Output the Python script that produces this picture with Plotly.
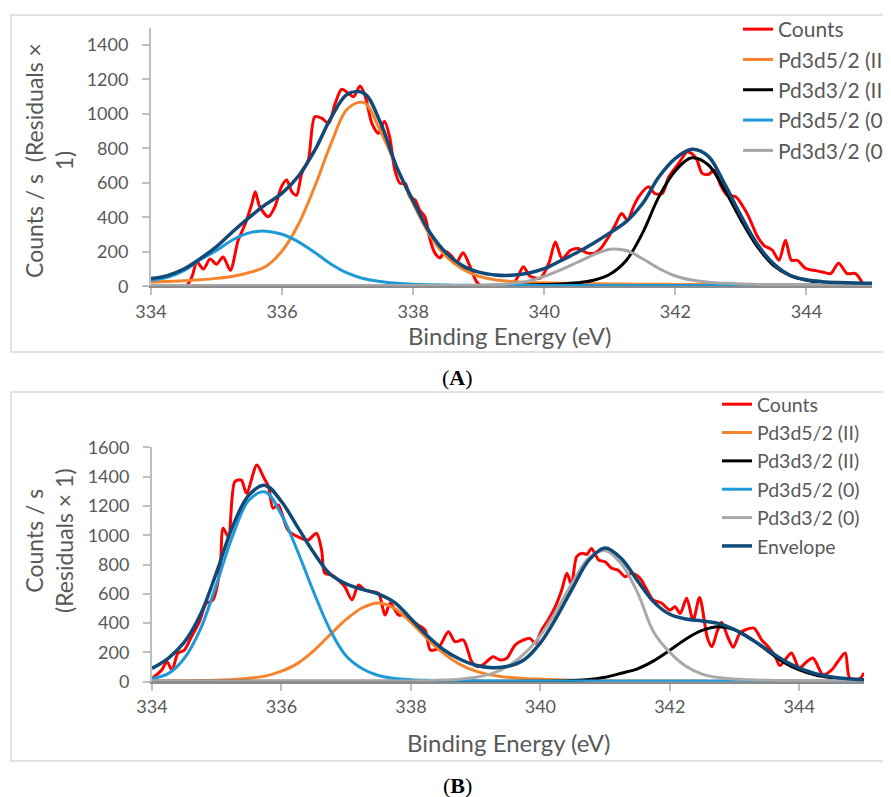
import plotly.graph_objects as go

# ---------------- data ----------------
energy_grid = [334.00, 334.25, 334.50, 334.75, 335.00, 335.25, 335.50, 335.75,
               336.00, 336.25, 336.50, 336.75, 337.00, 337.25, 337.50, 337.75,
               338.00, 338.25, 338.50, 338.75, 339.00, 339.25, 339.50, 339.75,
               340.00, 340.25, 340.50, 340.75, 341.00, 341.25, 341.50, 341.75,
               342.00, 342.25, 342.50, 342.75, 343.00, 343.25, 343.50, 343.75,
               344.00, 344.25, 344.50, 344.75, 345.00]

# ---- Panel A ----
counts_A_energy = [334.00, 334.15, 334.30, 334.45, 334.55, 334.63, 334.70, 334.80, 334.90, 335.00,
                   335.10, 335.21, 335.33, 335.44, 335.54, 335.59, 335.66, 335.79, 335.89, 335.99,
                   336.07, 336.15, 336.22, 336.30, 336.40, 336.50, 336.61, 336.71, 336.81, 336.91,
                   337.01, 337.09, 337.19, 337.27, 337.37, 337.47, 337.56, 337.64, 337.72, 337.80,
                   337.88, 337.95, 338.03, 338.10, 338.18, 338.26, 338.33, 338.41, 338.48, 338.59,
                   338.66, 338.76, 338.86, 338.97, 339.10, 339.30, 339.50, 339.60, 339.68, 339.78,
                   339.94, 340.07, 340.17, 340.27, 340.40, 340.52, 340.65, 340.78, 340.88, 340.98,
                   341.08, 341.18, 341.27, 341.36, 341.44, 341.59, 341.69, 341.80, 341.90, 342.05,
                   342.18, 342.25, 342.33, 342.41, 342.51, 342.59, 342.69, 342.79, 342.92, 343.02,
                   343.12, 343.25, 343.35, 343.48, 343.58, 343.68, 343.77, 343.86, 343.99, 344.11,
                   344.24, 344.37, 344.49, 344.62, 344.75, 344.83, 344.88]
counts_A = [-8, -12, -5, -12, 5, 60, 141, 100, 159, 128,
            170, 93, 267, 364, 480, 548, 461, 403, 461, 577,
            616, 548, 528, 655, 732, 984, 974, 945, 1061, 1143,
            1120, 1100, 1162, 1100, 945, 887, 958, 868, 674, 597,
            597, 519, 500, 441, 403, 267, 194, 165, 203, 174,
            138, 194, 122, 25, -13, -7, 0, 58, 114, 60,
            48, 134, 257, 161, 209, 219, 194, 194, 228, 286,
            354, 422, 383, 461, 519, 577, 538, 538, 635, 713,
            780, 770, 732, 655, 650, 674, 587, 528, 519, 470,
            403, 290, 238, 209, 151, 267, 151, 151, 103, 93,
            83, 74, 134, 74, 74, 35, -12]

pd52_II_A = [25, 28, 32, 38, 46, 58, 80, 115, 205, 360, 580, 830, 1030, 1065, 900, 690,
             480, 300, 175, 100, 58, 38, 28, 23, 20, 18, 16, 15, 14, 13, 12, 12,
             11, 11, 10, 10, 10, 9, 9, 9, 8, 8, 8, 8, 8]
pd32_II_A = [5, 5, 5, 5, 5, 5, 5, 5, 5, 5, 5, 5, 5, 5, 5, 5,
             5, 5, 5, 5, 5, 5, 5, 8, 10, 13, 20, 35, 70, 150, 310, 520,
             670, 745, 705, 560, 385, 230, 120, 62, 35, 22, 16, 13, 12]
pd52_0_A = [35, 52, 90, 155, 208, 270, 310, 320, 302, 258, 196, 128, 76, 44, 28, 18,
            12, 9, 7, 6, 5, 5, 5, 4, 4, 4, 4, 4, 4, 4, 4, 4,
            4, 4, 4, 4, 4, 4, 4, 4, 4, 4, 4, 4, 4]
pd32_0_A = [5, 5, 5, 5, 5, 5, 5, 5, 5, 5, 5, 5, 5, 5, 5, 5,
            5, 5, 5, 5, 7, 10, 16, 30, 58, 95, 138, 182, 215, 208, 160, 103,
            60, 36, 24, 17, 13, 11, 10, 10, 10, 10, 10, 10, 10]
envelope_A = [45, 62, 100, 160, 230, 318, 400, 475, 540, 640, 790, 980, 1115, 1120, 950, 690,
              495, 315, 195, 120, 82, 66, 64, 76, 102, 148, 196, 250, 310, 375, 480, 635,
              742, 795, 755, 595, 410, 245, 130, 64, 38, 27, 22, 19, 18]

# ---- Panel B ----
counts_B_energy = [334.00, 334.15, 334.23, 334.31, 334.40, 334.50, 334.61, 334.73, 334.84, 334.94,
                   335.05, 335.10, 335.18, 335.28, 335.38, 335.46, 335.62, 335.72, 335.80, 335.87,
                   335.95, 336.10, 336.25, 336.41, 336.54, 336.62, 336.67, 336.78, 336.88, 336.98,
                   337.09, 337.19, 337.29, 337.40, 337.50, 337.60, 337.68, 337.81, 337.91, 338.01,
                   338.11, 338.22, 338.30, 338.42, 338.58, 338.68, 338.81, 338.94, 339.04, 339.14,
                   339.27, 339.38, 339.48, 339.61, 339.74, 339.84, 339.92, 340.02, 340.12, 340.23,
                   340.33, 340.41, 340.48, 340.56, 340.64, 340.72, 340.79, 340.90, 341.00, 341.10,
                   341.20, 341.31, 341.41, 341.54, 341.62, 341.74, 341.87, 342.00, 342.08, 342.16,
                   342.26, 342.36, 342.46, 342.58, 342.65, 342.73, 342.80, 342.90, 342.98, 343.08,
                   343.16, 343.30, 343.42, 343.52, 343.63, 343.70, 343.80, 343.88, 344.00, 344.10,
                   344.21, 344.37, 344.50, 344.60, 344.71, 344.78, 344.93, 345.00]
counts_B = [23, 80, 137, 80, 194, 216, 307, 407, 535, 557,
            762, 1047, 990, 1365, 1376, 1286, 1479, 1399, 1331, 1184,
            1206, 1035, 990, 967, 1013, 899, 740, 728, 694, 648,
            558, 660, 626, 614, 603, 455, 535, 455, 460, 421,
            387, 353, 216, 228, 341, 273, 285, 137, 102, 125,
            171, 148, 160, 250, 285, 296, 262, 353, 421, 512,
            626, 740, 665, 853, 877, 870, 910, 831, 819, 774,
            762, 717, 740, 706, 648, 558, 537, 489, 512, 466,
            570, 420, 575, 300, 239, 341, 405, 300, 235, 330,
            353, 366, 285, 239, 171, 110, 160, 196, 93, 130,
            162, 46, 80, 140, 196, 25, 20, 60]

pd52_II_B = [3, 4, 5, 7, 10, 15, 24, 38, 72, 125, 212, 320, 425, 505, 538, 500,
             405, 295, 195, 120, 72, 45, 30, 22, 17, 13, 10, 8, 6, 5, 5, 4,
             4, 4, 4, 3, 3, 3, 3, 3, 3, 3, 3, 3, 3]
pd32_II_B = [3, 3, 3, 3, 3, 3, 3, 3, 3, 3, 3, 3, 3, 3, 3, 3,
             3, 3, 3, 3, 3, 3, 3, 3, 3, 5, 8, 15, 30, 58, 88, 142,
             215, 292, 350, 375, 355, 295, 215, 135, 80, 45, 27, 18, 14]
pd52_0_B = [22, 55, 160, 360, 670, 1000, 1240, 1295, 1140, 890, 610, 355, 175, 88, 42, 22,
            14, 10, 8, 7, 6, 5, 5, 5, 5, 5, 5, 5, 5, 5, 5, 5,
            5, 5, 5, 5, 5, 5, 5, 5, 5, 5, 5, 5, 5]
pd32_0_B = [5, 5, 5, 5, 5, 5, 5, 5, 5, 5, 5, 5, 5, 5, 5, 5,
            5, 7, 11, 17, 30, 55, 105, 190, 315, 485, 680, 845, 895, 805, 610, 340,
            200, 105, 52, 28, 18, 13, 10, 8, 7, 6, 6, 5, 5]
envelope_B = [91, 160, 270, 460, 750, 1065, 1275, 1340, 1230, 1055, 880, 735, 668, 630, 598, 540,
              430, 315, 220, 155, 112, 96, 105, 150, 265, 440, 640, 830, 912, 840, 690, 545,
              460, 428, 415, 398, 355, 292, 220, 148, 92, 55, 33, 20, 14]

x_ticks = [334, 336, 338, 340, 342, 344]
y_ticks_A = [0, 200, 400, 600, 800, 1000, 1200, 1400]
y_ticks_B = [0, 200, 400, 600, 800, 1000, 1200, 1400, 1600]

series_names = ["Pd3d5/2 (II)", "Pd3d3/2 (II)", "Pd3d5/2 (0)", "Pd3d3/2 (0)"]

# ---------------- styling ----------------
OFF = 8                 # page body margin of the html page
W, H = 891 - OFF, 797 - OFF
RED = "#FF0000"
ORANGE = "#F7832D"
BLACK = "#000000"
LBLUE = "#1F9AD9"
GREY = "#A6A6A6"
GREY_B = "#ABA9A7"
NAVY = "#104A78"
TXT = "#595959"
FONT = "Lato"

def px(sx):
    return (sx - OFF) / W

def py(sy):
    return 1 - (sy - OFF) / H

fig = go.Figure()

def add_panel(xa, ya, leg, ex, ey, comps, env, env_legend, grey):
    fig.add_trace(go.Scatter(x=ex, y=ey, mode="lines", name="Counts",
                             line=dict(color=RED, width=3, shape="spline", smoothing=0.8),
                             xaxis=xa, yaxis=ya, legend=leg))
    colors = [ORANGE, BLACK, LBLUE, grey]
    for nm, vals, c in zip(series_names, comps, colors):
        fig.add_trace(go.Scatter(x=energy_grid, y=vals, mode="lines", name=nm,
                                 line=dict(color=c, width=3, shape="spline"),
                                 xaxis=xa, yaxis=ya, legend=leg))
    fig.add_trace(go.Scatter(x=energy_grid, y=env, mode="lines", name="Envelope",
                             line=dict(color=NAVY, width=3.5, shape="spline"),
                             xaxis=xa, yaxis=ya, legend=leg, showlegend=env_legend))

add_panel("x", "y", "legend", counts_A_energy, counts_A,
          [pd52_II_A, pd32_II_A, pd52_0_A, pd32_0_A], envelope_A, False, GREY)
add_panel("x2", "y2", "legend2", counts_B_energy, counts_B,
          [pd52_II_B, pd32_II_B, pd52_0_B, pd32_0_B], envelope_B, True, GREY_B)

tickfont = dict(family=FONT, size=18, color=TXT)
xcommon = dict(range=[334, 345], tickvals=x_ticks, ticks="outside", ticklen=7,
               tickcolor="#BFBFBF", tickwidth=1.5, showline=True, linecolor="#8C8C8C",
               linewidth=2, showgrid=False, zeroline=False, tickfont=tickfont,
               ticklabelstandoff=1, automargin=False)
ycommon = dict(ticks="outside", ticklen=7, tickcolor="#BFBFBF", tickwidth=1.5,
               showline=True, linecolor="#BFBFBF", linewidth=2, showgrid=False,
               zeroline=False, tickfont=tickfont, ticklabelstandoff=10, automargin=False)

fig.update_layout(
    width=W, height=H,
    margin=dict(l=0, r=0, t=0, b=0, autoexpand=False),
    paper_bgcolor="white", plot_bgcolor="white",
    xaxis=dict(domain=[px(151), px(872)], anchor="y", **xcommon),
    yaxis=dict(domain=[py(286.3), py(27.7)], anchor="x", range=[0, 1500],
               tickvals=y_ticks_A, **ycommon),
    xaxis2=dict(domain=[px(152), px(864)], anchor="y2", **xcommon),
    yaxis2=dict(domain=[py(681.7), py(447.3)], anchor="x2", range=[0, 1600],
                tickvals=y_ticks_B, **ycommon),
    legend=dict(x=px(738), y=py(9), xanchor="left", yanchor="top",
                bgcolor="rgba(0,0,0,0)", font=dict(family=FONT, size=21, color=TXT),
                tracegroupgap=0),
    legend2=dict(x=px(717), y=py(385), xanchor="left", yanchor="top",
                 bgcolor="rgba(0,0,0,0)", font=dict(family=FONT, size=19.5, color=TXT),
                 tracegroupgap=0),
    showlegend=True,
)

# panel frames
for y0, y1 in [(15, 352), (392, 761)]:
    fig.add_shape(type="rect", xref="paper", yref="paper",
                  x0=px(11), x1=px(900), y0=py(y1), y1=py(y0),
                  line=dict(color="#D9D9D9", width=1.5), layer="below")

xt_font = dict(family=FONT, size=24, color=TXT)
yt_font = dict(family=FONT, size=23, color=TXT)
ann = [
    dict(text="Binding Energy (eV)", x=px(510), y=py(335), font=xt_font),
    dict(text="Binding Energy (eV)", x=px(508), y=py(742), font=xt_font),
    dict(text="Counts / s  (Residuals ×<br>1)", x=px(49), y=py(161), textangle=-90, font=yt_font),
    dict(text="Counts / s<br>(Residuals × 1)", x=px(49), y=py(541), textangle=-90, font=yt_font),
]
for a in ann:
    fig.add_annotation(xref="paper", yref="paper", showarrow=False,
                       xanchor="center", yanchor="middle", **a)

for lab, y in [("A", 377), ("B", 785)]:
    fig.add_annotation(text="(<b>%s</b>)" % lab, xref="paper", yref="paper",
                       x=px(457), y=py(y), showarrow=False, xanchor="center",
                       yanchor="middle",
                       font=dict(family="Liberation Serif", size=22, color="black"))

fig.write_html("out.html")
